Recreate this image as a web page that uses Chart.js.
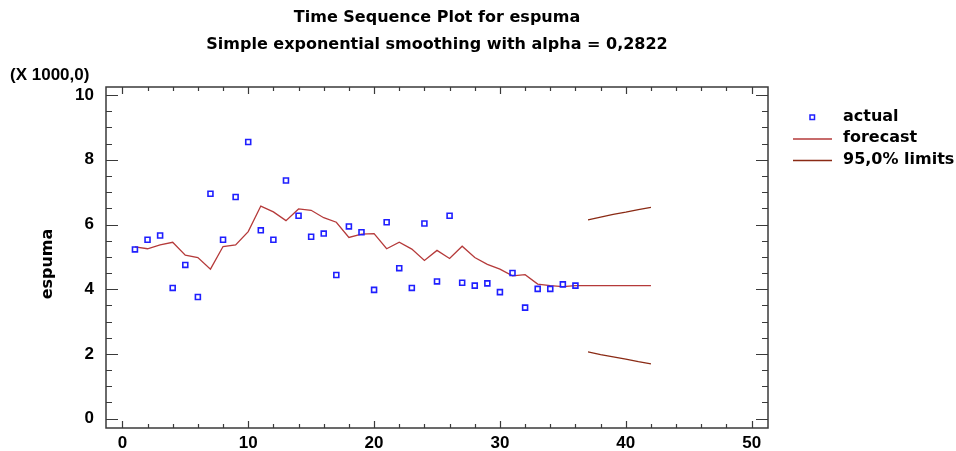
<!DOCTYPE html>
<html lang="es">
<head>
<meta charset="UTF-8">
<title>Time Sequence Plot for espuma</title>
<script src="https://cdn.jsdelivr.net/npm/chart.js@4.4.1/dist/chart.umd.min.js"></script>
<style>
  html, body { margin: 0; padding: 0; background: #fff; }
</style>
</head>
<body>
<canvas id="chart" width="956" height="451"></canvas>
<script>
// data (values in thousands)
const periods = [1, 2, 3, 4, 5, 6, 7, 8, 9, 10, 11, 12, 13, 14, 15, 16, 17, 18,
                 19, 20, 21, 22, 23, 24, 25, 26, 27, 28, 29, 30, 31, 32, 33, 34, 35, 36];
const actual = [5.23, 5.53, 5.66, 4.04, 4.75, 3.76, 6.95, 5.53, 6.85, 8.55, 5.82, 5.53,
                7.36, 6.27, 5.62, 5.72, 4.44, 5.94, 5.76, 3.98, 6.07, 4.65, 4.04, 6.03,
                4.24, 6.27, 4.20, 4.11, 4.18, 3.91, 4.50, 3.43, 4.01, 4.01, 4.15, 4.11];
const forecastPeriods = [1, 2, 3, 4, 5, 6, 7, 8, 9, 10, 11, 12, 13, 14, 15, 16, 17, 18, 19, 20, 21,
                         22, 23, 24, 25, 26, 27, 28, 29, 30, 31, 32, 33, 34, 35, 36, 37, 38, 39, 40, 41, 42];
const forecast = [5.31, 5.25, 5.37, 5.45, 5.05, 4.98, 4.62, 5.32, 5.37, 5.78, 6.57, 6.39, 6.12, 6.48,
                  6.44, 6.21, 6.07, 5.60, 5.70, 5.72, 5.25, 5.45, 5.24, 4.89, 5.20, 4.95, 5.33, 4.98,
                  4.77, 4.62, 4.41, 4.45, 4.16, 4.11, 4.08, 4.11, 4.11, 4.11, 4.11, 4.11, 4.11, 4.11];
const limitPeriods = [37, 38, 39, 40, 41, 42];
const upperLimit = [6.14, 6.23, 6.31, 6.38, 6.46, 6.53];
const lowerLimit = [2.06, 1.98, 1.91, 1.84, 1.76, 1.69];
const xTicks = [0, 10, 20, 30, 40, 50];
const yTicks = [0, 2, 4, 6, 8, 10];

const FONT = 'Arial, "Liberation Sans", sans-serif';
const WIDE = '"DejaVu Sans", Arial, sans-serif';
const ACTUAL_COL = '#1f1fff';
const FORECAST_COL = '#b53a3a';
const LIMIT_COL = '#8a2a14';

function pairs(xs, ys) {
    return xs.map((x, i) => ({ x: x, y: ys[i] }));
}

// frame, inward ticks, titles and legend
const decor = {
    id: 'decor',
    afterDraw(chart) {
        const ctx = chart.ctx;
        const a = chart.chartArea;
        const xs = chart.scales.x, ys = chart.scales.y;
        ctx.save();
        ctx.strokeStyle = '#3a3a3a';
        ctx.lineWidth = 1.5;
        ctx.strokeRect(a.left, a.top, a.right - a.left, a.bottom - a.top);

        ctx.lineWidth = 1.2;
        ctx.beginPath();
        for (let v = 0; v <= 10.001; v += 0.5) {
            const y = Math.round(ys.getPixelForValue(v)) + 0.5;
            const len = yTicks.includes(Math.round(v * 10) / 10) ? 12 : 6;
            ctx.moveTo(a.left, y); ctx.lineTo(a.left + len, y);
            ctx.moveTo(a.right, y); ctx.lineTo(a.right - len, y);
        }
        for (let v = 0; v <= 50; v += 2) {
            const x = Math.round(xs.getPixelForValue(v)) + 0.5;
            const len = xTicks.includes(v) ? 7 : 4;
            ctx.moveTo(x, a.bottom); ctx.lineTo(x, a.bottom - len);
            ctx.moveTo(x, a.top); ctx.lineTo(x, a.top + len);
        }
        ctx.stroke();

        ctx.fillStyle = '#000';
        ctx.font = 'bold 16px ' + WIDE;
        ctx.textAlign = 'center';
        ctx.textBaseline = 'middle';
        const cx = (a.left + a.right) / 2;
        ctx.fillText('Time Sequence Plot for espuma', cx, 18);
        ctx.fillText('Simple exponential smoothing with alpha = 0,2822', cx, 45);

        // y axis title
        ctx.save();
        ctx.translate(48, 264);
        ctx.rotate(-Math.PI / 2);
        ctx.fillText('espuma', 0, 0);
        ctx.restore();

        ctx.textAlign = 'left';
        ctx.font = 'bold 17px ' + FONT;
        ctx.fillText('(X 1000,0)', 10, 75);

        // legend
        ctx.font = 'bold 16px ' + WIDE;
        const lx = 793, tx = 843;
        ctx.fillText('actual', tx, 117);
        ctx.fillText('forecast', tx, 138);
        ctx.fillText('95,0% limits', tx, 160);
        ctx.strokeStyle = ACTUAL_COL;
        ctx.lineWidth = 1.5;
        ctx.strokeRect(810, 115, 4.5, 4.5);
        ctx.lineWidth = 1.3;
        ctx.strokeStyle = FORECAST_COL;
        ctx.beginPath(); ctx.moveTo(lx, 139); ctx.lineTo(832, 139); ctx.stroke();
        ctx.strokeStyle = LIMIT_COL;
        ctx.beginPath(); ctx.moveTo(lx, 160.5); ctx.lineTo(832, 160.5); ctx.stroke();
        ctx.restore();
    }
};

new Chart(document.getElementById('chart'), {
    type: 'line',
    data: {
        datasets: [
            {
                label: 'actual',
                data: pairs(periods, actual),
                showLine: false,
                pointStyle: 'rect',
                pointRadius: 3.5,
                pointBorderWidth: 1.6,
                pointBorderColor: ACTUAL_COL,
                pointBackgroundColor: 'rgba(0,0,0,0)',
                borderColor: ACTUAL_COL
            },
            {
                label: 'forecast',
                data: pairs(forecastPeriods, forecast),
                borderColor: FORECAST_COL,
                borderWidth: 1.3,
                pointRadius: 0,
                tension: 0
            },
            {
                label: '95,0% limits',
                data: pairs(limitPeriods, upperLimit),
                borderColor: LIMIT_COL,
                borderWidth: 1.3,
                pointRadius: 0,
                tension: 0
            },
            {
                label: '95,0% limits (lower)',
                data: pairs(limitPeriods, lowerLimit),
                borderColor: LIMIT_COL,
                borderWidth: 1.3,
                pointRadius: 0,
                tension: 0
            }
        ]
    },
    options: {
        responsive: false,
        animation: false,
        devicePixelRatio: 1,
        layout: { padding: { left: 34, top: 87, right: 188, bottom: 0 } },
        plugins: {
            legend: { display: false },
            title: { display: false },
            tooltip: { enabled: false }
        },
        scales: {
            x: {
                type: 'linear',
                min: -1.3,
                max: 51.3,
                afterBuildTicks: s => { s.ticks = xTicks.map(v => ({ value: v })); },
                afterFit: s => { s.height = 23; },
                grid: { display: false, drawTicks: false },
                border: { display: false },
                ticks: {
                    color: '#000',
                    font: { family: FONT, size: 17, weight: 'bold' },
                    padding: 5,
                    maxRotation: 0,
                    autoSkip: false
                }
            },
            y: {
                type: 'linear',
                min: -0.29,
                max: 10.25,
                afterBuildTicks: s => { s.ticks = yTicks.map(v => ({ value: v })); },
                afterFit: s => { s.width = 72; },
                grid: { display: false, drawTicks: false },
                border: { display: false },
                ticks: {
                    color: '#000',
                    font: { family: FONT, size: 17, weight: 'bold' },
                    padding: 12,
                    autoSkip: false
                }
            }
        }
    },
    plugins: [decor]
});
</script>
</body>
</html>
